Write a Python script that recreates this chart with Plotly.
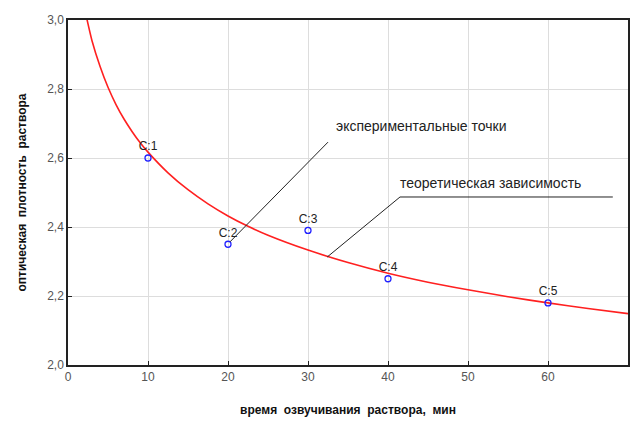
import plotly.graph_objects as go

# Experimental points
exp_x = [10, 20, 30, 40, 60]
exp_y = [2.60, 2.35, 2.39, 2.25, 2.18]
exp_labels = ["C:1", "C:2", "C:3", "C:4", "C:5"]

# Theoretical curve
theo_x = [2.1, 3, 4, 5, 6, 7, 8, 9, 10, 12.5, 15, 17.5, 20, 22.5, 25, 30, 35, 40, 45, 50, 55, 60, 65, 70]
theo_y = [3.03, 2.94, 2.866, 2.805, 2.755, 2.713, 2.677, 2.645, 2.617, 2.557, 2.508, 2.467, 2.432, 2.402, 2.376,
          2.333, 2.297, 2.266, 2.240, 2.218, 2.198, 2.180, 2.164, 2.149]

x_ticks = [0, 10, 20, 30, 40, 50, 60, 70]
y_ticks = [2.0, 2.2, 2.4, 2.6, 2.8, 3.0]
y_ticktext = ["2,0", "2,2", "2,4", "2,6", "2,8", "3,0"]

FONT = "Arial, Liberation Sans"

fig = go.Figure()
fig.add_trace(go.Scatter(x=theo_x, y=theo_y, mode="lines", line=dict(color="#ff2020", width=1.6, shape="spline", smoothing=0.6),
                         showlegend=False, hoverinfo="skip"))
fig.add_trace(go.Scatter(x=exp_x, y=exp_y, mode="markers+text", text=exp_labels, textposition="top center",
                         textfont=dict(family=FONT, size=12, color="#222"),
                         marker=dict(symbol="circle-open", size=6, color="#2020ff", line=dict(width=1.3)),
                         showlegend=False, cliponaxis=False))

# leader lines
fig.add_shape(type="line", x0=32.5, y0=2.646, x1=20.25, y1=2.357, line=dict(color="#222", width=1))
fig.add_shape(type="line", x0=68.1, y0=2.487, x1=41.5, y1=2.487, line=dict(color="#222", width=1))
fig.add_shape(type="line", x0=41.5, y0=2.487, x1=32.4, y1=2.313, line=dict(color="#222", width=1))

fig.add_annotation(x=33.2, y=2.693, text="экспериментальные точки", showarrow=False, xanchor="left",
                   font=dict(family=FONT, size=14, color="#222"))
fig.add_annotation(x=41.3, y=2.528, text="теоретическая зависимость", showarrow=False, xanchor="left",
                   font=dict(family=FONT, size=14, color="#222"))

axis_common = dict(showline=True, linecolor="#222", linewidth=1.5, mirror=True,
                   ticks="inside", ticklen=4, tickcolor="#222", automargin=False,
                   showgrid=True, gridcolor="#dddddd", gridwidth=1, zeroline=False,
                   tickfont=dict(family=FONT, size=12, color="#555"))

fig.update_xaxes(range=[0, 70], tickvals=x_ticks, **axis_common,
                 title=dict(text="<b>время  озвучивания  раствора,  мин</b>", standoff=22,
                            font=dict(family=FONT, size=12, color="#111")))
fig.update_yaxes(range=[2.0, 3.0], tickvals=y_ticks, ticktext=y_ticktext, **axis_common,
                 title=dict(text="<b>оптическая  плотность  раствора</b>", standoff=18,
                            font=dict(family=FONT, size=12, color="#111")))

fig.update_layout(width=630, height=421, margin=dict(l=68, r=2, t=20, b=56, autoexpand=False),
                  plot_bgcolor="white", paper_bgcolor="white")

fig.write_html("out.html", config={"displayModeBar": False},
               post_script="document.body.style.margin='0';document.body.style.overflow='hidden';")
